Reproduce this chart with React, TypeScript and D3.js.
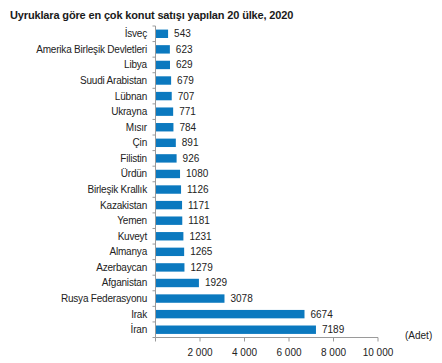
import React, { useEffect, useRef } from 'react';
import * as d3 from 'd3';

const title = 'Uyruklara göre en çok konut satışı yapılan 20 ülke, 2020';

const countries = [
  'İsveç', 'Amerika Birleşik Devletleri', 'Libya', 'Suudi Arabistan', 'Lübnan',
  'Ukrayna', 'Mısır', 'Çin', 'Filistin', 'Ürdün', 'Birleşik Krallık', 'Kazakistan',
  'Yemen', 'Kuveyt', 'Almanya', 'Azerbaycan', 'Afganistan', 'Rusya Federasyonu',
  'Irak', 'İran'
];

const sales = [
  543, 623, 629, 679, 707, 771, 784, 891, 926, 1080, 1126, 1171,
  1181, 1231, 1265, 1279, 1929, 3078, 6674, 7189
];

const xTicks = [0, 2000, 4000, 6000, 8000, 10000];
const unitLabel = '(Adet)';

const App = () => {
  const ref = useRef<SVGSVGElement>(null);

  useEffect(() => {
    const svg = d3.select(ref.current);
    svg.selectAll('*').remove();

    const font = 'Arial, "Liberation Sans", sans-serif';
    const x = d3.scaleLinear().domain([0, 10000]).range([155.5, 378]);
    const y = d3.scaleBand().domain(countries).range([26, 337.5]).paddingInner(0.46).paddingOuter(0.23);

    svg.append('text')
      .attr('x', 10)
      .attr('y', 19)
      .attr('font-family', font)
      .attr('font-weight', 'bold')
      .attr('font-size', 11)
      .attr('letter-spacing', -0.15)
      .attr('fill', '#1a1a1a')
      .text(title);

    // y axis
    svg.append('line')
      .attr('x1', x(0)).attr('x2', x(0))
      .attr('y1', 26).attr('y2', 337.5)
      .attr('stroke', '#9a9a9a');
    svg.selectAll('.ytick')
      .data(d3.range(countries.length + 1))
      .join('line')
      .attr('x1', x(0) - 3).attr('x2', x(0))
      .attr('y1', i => 26 + i * (311.5 / countries.length))
      .attr('y2', i => 26 + i * (311.5 / countries.length))
      .attr('stroke', '#9a9a9a');

    svg.selectAll('.cat')
      .data(countries)
      .join('text')
      .attr('x', 147)
      .attr('y', d => (y(d) as number) + y.bandwidth() / 2)
      .attr('dy', '0.35em')
      .attr('text-anchor', 'end')
      .attr('font-family', font)
      .attr('font-size', 10)
      .attr('letter-spacing', -0.2)
      .attr('fill', '#222')
      .text(d => d);

    // bars
    svg.selectAll('.bar')
      .data(countries)
      .join('rect')
      .attr('x', x(0) + 0.5)
      .attr('y', d => y(d) as number)
      .attr('width', (d, i) => x(sales[i]) - x(0))
      .attr('height', y.bandwidth())
      .attr('fill', '#0b79bf');

    svg.selectAll('.val')
      .data(countries)
      .join('text')
      .attr('x', (d, i) => x(sales[i]) + 6.5)
      .attr('y', d => (y(d) as number) + y.bandwidth() / 2)
      .attr('dy', '0.35em')
      .attr('font-family', font)
      .attr('font-size', 10)
      .attr('fill', '#222')
      .text((d, i) => String(sales[i]));

    // x axis
    svg.append('line')
      .attr('x1', x(0)).attr('x2', x(10000))
      .attr('y1', 337.5).attr('y2', 337.5)
      .attr('stroke', '#9a9a9a');
    svg.selectAll('.xtick')
      .data(xTicks)
      .join('line')
      .attr('x1', d => x(d)).attr('x2', d => x(d))
      .attr('y1', 337.5).attr('y2', 341.5)
      .attr('stroke', '#9a9a9a');
    svg.selectAll('.xlab')
      .data(xTicks.filter(d => d > 0))
      .join('text')
      .attr('x', d => x(d))
      .attr('y', 352)
      .attr('dy', '0.35em')
      .attr('text-anchor', 'middle')
      .attr('font-family', font)
      .attr('font-size', 10)
      .attr('fill', '#222')
      .text(d => d3.format(',')(d).replace(',', ' '));

    svg.append('text')
      .attr('x', 405)
      .attr('y', 335)
      .attr('dy', '0.35em')
      .attr('font-family', font)
      .attr('font-size', 10)
      .attr('fill', '#222')
      .text(unitLabel);
  }, []);

  return (
    <svg ref={ref} width={442} height={363}
      style={{ position: 'absolute', left: 0, top: 0, background: '#fff' }} />
  );
};

export default App;
